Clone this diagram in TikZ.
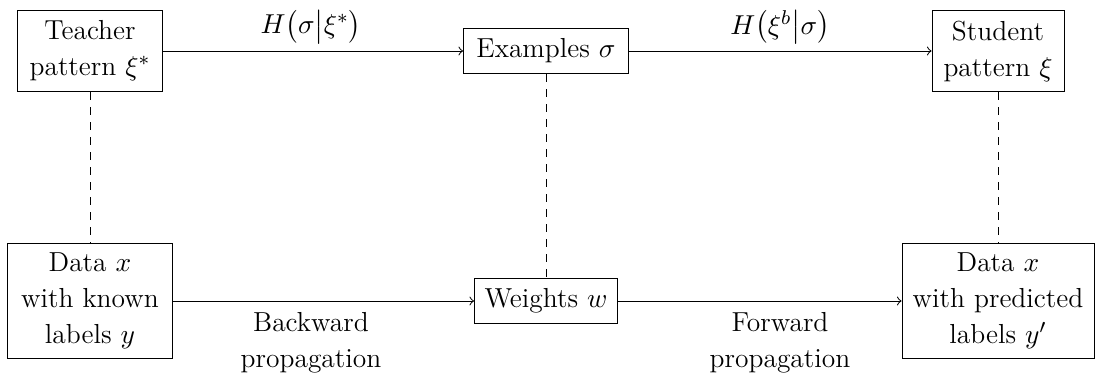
\documentclass[tikz,border=0pt]{standalone}
\usepackage{amsmath}
\usetikzlibrary{positioning}
\tikzset{box/.style={draw,align=center,inner sep=2pt,minimum height=18pt},
         every node/.style={font=\fontsize{11}{14.4}\selectfont}}

\begin{document}
\begin{tikzpicture}[x=0.4pt,y=-0.4pt]
\useasboundingbox (0,0) rectangle (1095,380);
\node[box,minimum width=58pt,minimum height=32.4pt] (teacher) at (90,51) {Teacher\\pattern $\xi^*$};
\node[box,minimum width=66pt] (examples) at (546,51) {Examples $\sigma$};
\node[box,minimum width=52.8pt,minimum height=32.4pt] (student) at (998,51) {Student\\pattern $\xi$};
%
\node[box,minimum width=66pt,minimum height=46pt] (dataknown) at (90,301) {Data $x$\\with known\\labels $y$};
\node[box,minimum width=57.2pt] (weights) at (546,301) {Weights $w$};
\node[box,minimum width=76.8pt,minimum height=46pt] (datapred) at (998,301) {Data $x$\\with predicted\\labels $y'$};
%
\foreach \Source/\Target in {%
        teacher/examples,
        examples/student,
        dataknown/weights,
        weights/datapred%
    }
\draw[->] (\Source) -- (\Target);
%
\foreach \Source/\Target in {%
        teacher/dataknown,
        examples/weights,
        student/datapred%
    }
\draw[dashed] (\Source) -- (\Target);
%
\node (hcond) at (311,27) {$H\bigl(\sigma\big|\xi^*\bigr)$};
\node (hback) at (780,27) {$H\bigl(\xi^b\big|\sigma\bigr)$};
\node[align=center] (backprop) at (311,343) {Backward\\propagation};
\node[align=center] (forwprop) at (780,343) {Forward\\propagation};
\end{tikzpicture}
\end{document}
